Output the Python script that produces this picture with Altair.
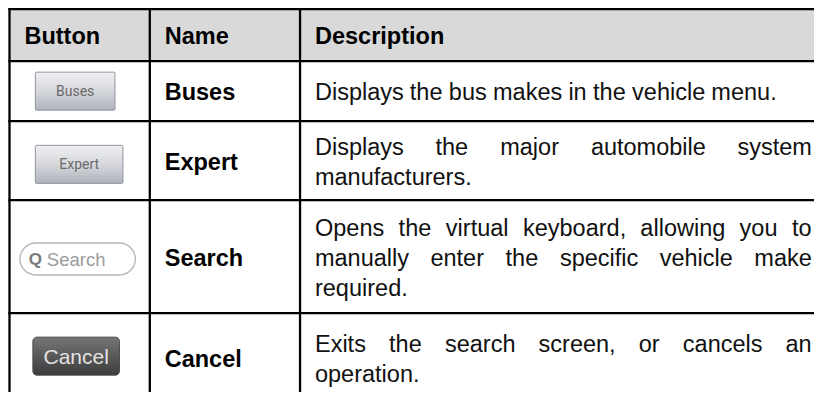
import altair as alt
import pandas as pd

# ---------------- data (table content) ----------------
HEADERS = ["Button", "Name", "Description"]
BUTTON_LABELS = ["Buses", "Expert", "Search", "Cancel"]
NAMES = ["Buses", "Expert", "Search", "Cancel"]
DESCRIPTIONS = [
    ["Displays the bus makes in the vehicle menu."],
    ["Displays the major automobile system", "manufacturers."],
    ["Opens the virtual keyboard, allowing you to",
     "manually enter the specific vehicle make", "required."],
    ["Exits the search screen, or cancels an", "operation."],
]

# ---------------- layout / style ----------------
COL_EDGES = [4, 145, 296]
ROW_EDGES = [6, 58, 118, 197, 310, 400]
X_DOMAIN = [2.5, 812.5]
Y_DOMAIN = [4.85, 388.85]
W, H = 806, 384
PAD = 15
FONT = "Liberation Sans"
FS = 23.5
LINE_H = 30
TEXT_DY = 2.0
JUSTIFY_RIGHT = 810
LINE_W = 2.3

# button boxes: centre x, y offset from row centre, width, height
BTN_BOX = {
    "Buses": (70, 0, 80, 38),
    "Expert": (74, 3.7, 88, 38),
    "Search": (72.5, 2.3, 116, 32),
    "Cancel": (71, -2, 87, 38),
}

ARIAL = {" ": 278, ",": 278, ".": 278, "D": 722, "E": 667, "O": 778,
         "a": 556, "b": 556, "c": 500, "d": 556, "e": 556, "f": 278, "g": 556,
         "h": 556, "i": 222, "j": 222, "k": 500, "l": 222, "m": 833, "n": 556,
         "o": 556, "p": 556, "q": 556, "r": 333, "s": 500, "t": 278, "u": 556,
         "v": 500, "w": 722, "x": 500, "y": 500, "z": 500}


def tw(s):
    return sum(ARIAL.get(c, 556) for c in s) / 1000.0 * FS


row_centres = [(ROW_EDGES[i] + ROW_EDGES[i + 1]) / 2 for i in range(len(ROW_EDGES) - 1)]
name_x = COL_EDGES[1] + PAD
desc_x = COL_EDGES[2] + PAD

xs = alt.Scale(domain=X_DOMAIN, nice=False, zero=False)
ys = alt.Scale(domain=Y_DOMAIN, nice=False, zero=False, reverse=True)


def X(f="x"):
    return alt.X(f, type="quantitative", scale=xs, axis=None)


def Y(f="y"):
    return alt.Y(f, type="quantitative", scale=ys, axis=None)


# header background
header_bg = alt.Chart(pd.DataFrame({
    "x": [COL_EDGES[0]], "x2": [X_DOMAIN[1]], "y": [ROW_EDGES[0]], "y2": [ROW_EDGES[1]]
})).mark_rect(fill="#d9d9d9").encode(x=X(), x2="x2", y=Y(), y2="y2")

# buttons
btn_rows = []
for i, lab in enumerate(BUTTON_LABELS):
    cx, dy, bw, bh = BTN_BOX[lab]
    cy = row_centres[i + 1] + dy
    btn_rows.append({"label": lab, "x": cx - bw / 2, "x2": cx + bw / 2,
                     "y": cy - bh / 2, "y2": cy + bh / 2, "cx": cx, "cy": cy})
btn_df = pd.DataFrame(btn_rows)

light_grad = alt.Gradient(gradient="linear",
                          stops=[alt.GradientStop(color="#f0f0f2", offset=0),
                                 alt.GradientStop(color="#d6d8dc", offset=0.5),
                                 alt.GradientStop(color="#aeb2ba", offset=1)],
                          x1=0, x2=0, y1=0, y2=1)
dark_grad = alt.Gradient(gradient="linear",
                         stops=[alt.GradientStop(color="#767676", offset=0),
                                alt.GradientStop(color="#3c3c3c", offset=1)],
                         x1=0, x2=0, y1=0, y2=1)

light_btns = alt.Chart(btn_df[btn_df.label.isin(["Buses", "Expert"])]).mark_rect(
    fill=light_grad, stroke="#8f949c", strokeWidth=1, cornerRadius=1
).encode(x=X(), x2="x2", y=Y(), y2="y2")

search_btn = alt.Chart(btn_df[btn_df.label == "Search"]).mark_rect(
    fill="white", stroke="#b8b8b8", strokeWidth=1.4, cornerRadius=16
).encode(x=X(), x2="x2", y=Y(), y2="y2")

cancel_btn = alt.Chart(btn_df[btn_df.label == "Cancel"]).mark_rect(
    fill=dark_grad, stroke="#4a4a4a", strokeWidth=1, cornerRadius=4
).encode(x=X(), x2="x2", y=Y(), y2="y2")

light_lbl = alt.Chart(btn_df[btn_df.label.isin(["Buses", "Expert"])]).mark_text(
    font="Roboto", fontSize=14, color="#6a6a6a", align="center", baseline="middle", dy=1
).encode(x=X("cx"), y=Y("cy"), text="label")

search_df = btn_df[btn_df.label == "Search"].assign(qx=lambda d: d.x + 15.5, sx=lambda d: d.x + 27)
search_q = alt.Chart(search_df).mark_text(
    font=FONT, fontSize=17, fontWeight="bold", color="#7a7a7a", align="center", baseline="middle", dy=1
).encode(x=X("qx"), y=Y("cy"), text=alt.value("Q"))
search_lbl = alt.Chart(search_df).mark_text(
    font=FONT, fontSize=18.5, color="#9c9c9c", align="left", baseline="middle", dy=1.5
).encode(x=X("sx"), y=Y("cy"), text="label")

cancel_lbl = alt.Chart(btn_df[btn_df.label == "Cancel"]).mark_text(
    font=FONT, fontSize=21, color="#e2e2e2", align="center", baseline="middle", dy=1.5
).encode(x=X("cx"), y=Y("cy"), text="label")

# grid lines
hlines = pd.DataFrame({"y": ROW_EDGES[:-1], "x": COL_EDGES[0], "x2": X_DOMAIN[1]})
vlines = pd.DataFrame({"x": COL_EDGES, "y": ROW_EDGES[0], "y2": Y_DOMAIN[1]})
h_rules = alt.Chart(hlines).mark_rule(color="black", strokeWidth=LINE_W, strokeCap="square").encode(
    x=X(), x2="x2", y=Y())
v_rules = alt.Chart(vlines).mark_rule(color="black", strokeWidth=LINE_W, strokeCap="square").encode(
    x=X(), y=Y(), y2="y2")

# header text
head_df = pd.DataFrame({"label": HEADERS,
                        "x": [COL_EDGES[0] + PAD, name_x, desc_x],
                        "y": row_centres[0] + TEXT_DY})
head_txt = alt.Chart(head_df).mark_text(
    font=FONT, fontSize=FS, fontWeight="bold", color="black", align="left", baseline="middle"
).encode(x=X(), y=Y(), text="label")

# name column
name_df = pd.DataFrame({"label": NAMES, "x": name_x,
                        "y": [c + TEXT_DY for c in row_centres[1:]]})
name_txt = alt.Chart(name_df).mark_text(
    font=FONT, fontSize=FS, fontWeight="bold", color="black", align="left", baseline="middle"
).encode(x=X(), y=Y(), text="label")

# description words (justified like the source document)
word_rows = []
for r, lines in enumerate(DESCRIPTIONS):
    cy = row_centres[r + 1] + TEXT_DY
    n = len(lines)
    for li, line in enumerate(lines):
        ly = cy + (li - (n - 1) / 2) * LINE_H
        words = line.split(" ")
        justify = (li < n - 1) and len(words) > 1
        if justify:
            total = sum(tw(w) for w in words)
            gap = (JUSTIFY_RIGHT - desc_x - total) / (len(words) - 1)
        else:
            gap = tw(" ")
        xpos = desc_x
        for w in words:
            word_rows.append({"label": w, "x": xpos, "y": ly})
            xpos += tw(w) + gap
desc_txt = alt.Chart(pd.DataFrame(word_rows)).mark_text(
    font=FONT, fontSize=FS, color="#111111", align="left", baseline="middle"
).encode(x=X(), y=Y(), text="label")

chart = alt.layer(
    header_bg, light_btns, search_btn, cancel_btn,
    light_lbl, search_q, search_lbl, cancel_lbl,
    h_rules, v_rules, head_txt, name_txt, desc_txt
).properties(
    width=W, height=H, padding=0, background="white",
    autosize=alt.AutoSizeParams(type="none")
).configure_view(strokeWidth=0)

chart.save("out.html", embed_options={"renderer": "svg", "actions": False})
